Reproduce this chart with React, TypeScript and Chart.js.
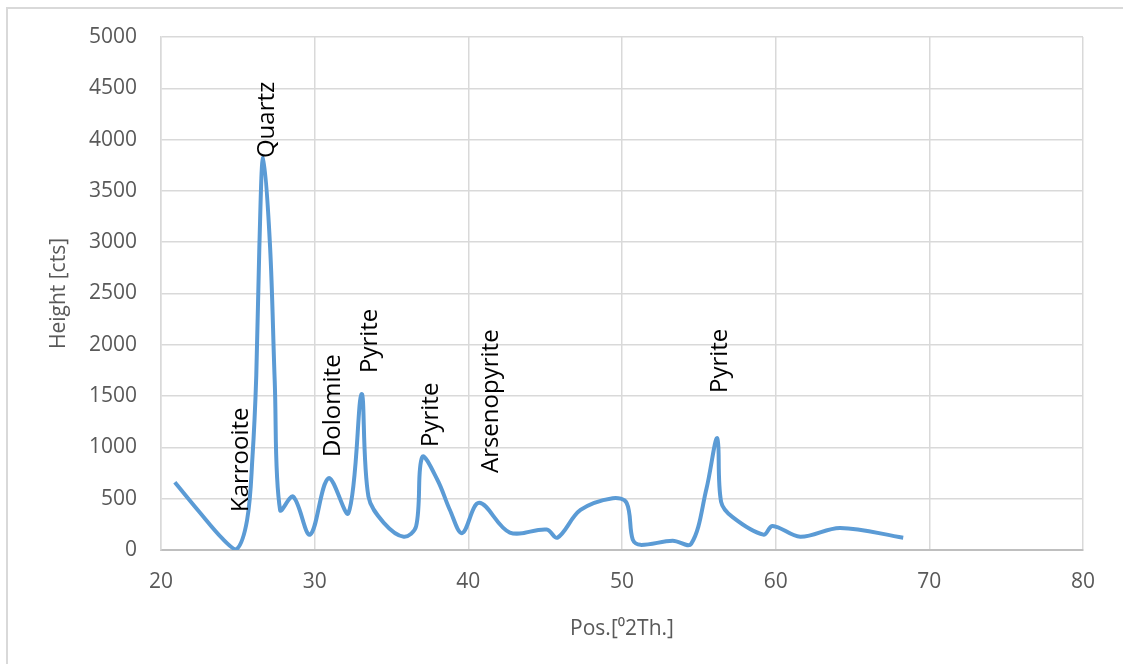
import React, { useEffect, useRef } from "react";
import { Chart, registerables } from "chart.js";

Chart.register(...registerables);

// Diffractogram trace: position (°2θ) and height (cts)
const positions = [
  20.9, 22.5, 24.0, 24.9, 25.6, 25.95, 26.2, 26.4, 26.65, 27.1, 27.4, 27.75,
  28.6, 29.7, 30.9, 32.2, 33.05, 33.5, 34.5, 35.8, 36.6, 37.0,
  38.0, 38.8, 39.6, 40.7, 42.7, 45.1, 45.8, 47.3, 49.4, 50.3, 50.7, 51.2,
  53.3, 54.5, 55.5, 56.2, 56.45, 57.2, 59.2, 59.8, 61.6, 64.2, 68.3,
];
const heights = [
  660, 370, 110, 5, 290, 900, 1700, 2950, 3830, 2950, 1650, 390,
  520, 150, 700, 360, 1520, 520, 265, 130, 230, 906,
  680, 390, 165, 460, 170, 200, 120, 390, 505, 460, 100, 50,
  90, 60, 600, 1090, 470, 320, 150, 235, 130, 215, 120,
];

// Phase annotations (rotated labels)
const phaseNames = ["Karrooite", "Quartz", "Dolomite", "Pyrite", "Pyrite", "Arsenopyrite", "Pyrite"];
const phaseX = [25.2, 26.9, 31.2, 33.6, 37.6, 41.5, 56.4];
const phaseY = [370, 3820, 906, 1725, 1004, 750, 1530];

const xTicks = [20, 30, 40, 50, 60, 70, 80];
const yTicks = [0, 500, 1000, 1500, 2000, 2500, 3000, 3500, 4000, 4500, 5000];

const FONT = "'Open Sans', 'DejaVu Sans', sans-serif";

const framePlugin = {
  id: "frame",
  beforeDraw(chart: any) {
    const { ctx, width, height } = chart;
    ctx.save();
    ctx.fillStyle = "#ffffff";
    ctx.fillRect(0, 0, width, height);
    ctx.strokeStyle = "#d9d9d9";
    ctx.lineWidth = 2;
    ctx.beginPath();
    ctx.moveTo(7, height);
    ctx.lineTo(7, 8);
    ctx.lineTo(width, 8);
    ctx.stroke();
    ctx.restore();
  },
};

const labelPlugin = {
  id: "phaseLabels",
  afterDatasetsDraw(chart: any) {
    const { ctx, scales } = chart;
    ctx.save();
    ctx.fillStyle = "#000000";
    ctx.font = `24px ${FONT}`;
    ctx.textAlign = "left";
    ctx.textBaseline = "middle";
    phaseNames.forEach((name, i) => {
      const px = scales.x.getPixelForValue(phaseX[i]);
      const py = scales.y.getPixelForValue(phaseY[i]);
      ctx.save();
      ctx.translate(px, py);
      ctx.rotate(-Math.PI / 2);
      ctx.fillText(name, 0, 0);
      ctx.restore();
    });
    ctx.restore();
  },
};

export default function App() {
  const ref = useRef<HTMLCanvasElement | null>(null);

  useEffect(() => {
    if (!ref.current) return;
    const data = positions.map((x, i) => ({ x, y: heights[i] }));
    const chart = new Chart(ref.current, {
      type: "line",
      data: {
        datasets: [
          {
            data,
            borderColor: "#5b9bd5",
            borderWidth: 4,
            pointRadius: 0,
            fill: false,
            tension: 0.35,
          },
        ],
      },
      options: {
        animation: false,
        responsive: false,
        maintainAspectRatio: false,
        layout: { padding: { left: 0, right: 40, top: 37, bottom: 0 } },
        plugins: {
          legend: { display: false },
          tooltip: { enabled: false },
        },
        scales: {
          x: {
            type: "linear",
            min: 20,
            max: 80,
            afterFit(scale: any) {
              scale.height = 114;
            },
            afterBuildTicks(scale: any) {
              scale.ticks = xTicks.map((v) => ({ value: v }));
            },
            ticks: {
              color: "#595959",
              font: { family: FONT, size: 21 },
              padding: 19,
              callback: (v: any) => String(v),
            },
            grid: { color: "#d9d9d9", lineWidth: 1.5, drawTicks: false },
            border: { color: "#bfbfbf", width: 2 },
            title: {
              display: true,
              text: "Pos.[⁰2Th.]",
              color: "#595959",
              font: { family: FONT, size: 21 },
              padding: { top: 0, bottom: 22 },
            },
          },
          y: {
            min: 0,
            max: 5000,
            afterFit(scale: any) {
              scale.width = 161;
            },
            afterBuildTicks(scale: any) {
              scale.ticks = yTicks.map((v) => ({ value: v }));
            },
            ticks: {
              color: "#595959",
              font: { family: FONT, size: 21 },
              padding: 24,
              callback: (v: any) => String(v),
            },
            grid: { color: "#d9d9d9", lineWidth: 1.5, drawTicks: false },
            border: { color: "#d9d9d9", width: 1.5 },
            title: {
              display: true,
              text: "Height [cts]",
              color: "#595959",
              font: { family: FONT, size: 21 },
              padding: { top: 46, bottom: 0 },
            },
          },
        },
      },
      plugins: [framePlugin, labelPlugin],
    });
    return () => chart.destroy();
  }, []);

  return (
    <div style={{ position: "fixed", left: 0, top: 0, width: 1123, height: 664, background: "#fff" }}>
      <canvas ref={ref} width={1123} height={664} style={{ width: 1123, height: 664, display: "block" }} />
    </div>
  );
}
